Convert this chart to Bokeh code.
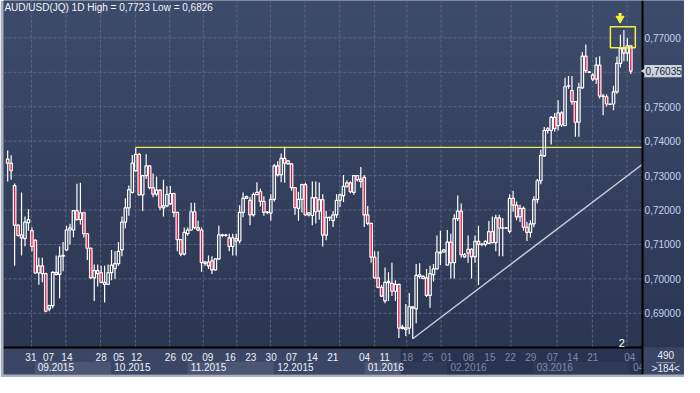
import numpy as np
from bokeh.plotting import figure
from bokeh.models import Range1d, Label, ColumnDataSource
from bokeh.embed import file_html
from bokeh.resources import INLINE
from bokeh.core.properties import value

# ---------------- data (AUD/USD daily) ----------------
opens = [.7348,.7336,.7271,.7156,.7128,.7117,.7163,.7140,.7112,.7017,
         .7038,.7015,.6913,.6922,.7019,.7013,.7066,.7084,.7142,.7142,
         .7198,.7172,.7192,.7131,.7089,.7003,.7024,.7018,.6990,.6984,
         .7018,.7030,.7044,.7084,.7165,.7206,.7251,.7314,.7362,.7244,
         .7300,.7328,.7265,.7246,.7258,.7206,.7212,.7218,.7248,.7193,
         .7114,.7072,.7131,.7142,.7195,.7149,.7142,.7045,.7049,.7052,
         .7026,.7058,.7128,.7126,.7119,.7094,.7117,.7110,.7193,.7234,
         .7228,.7186,.7245,.7253,.7225,.7193,.7191,.7231,.7328,.7302,
         .7350,.7334,.7334,.7265,.7205,.7231,.7274,.7192,.7184,.7236,
         .7197,.7230,.7127,.7179,.7169,.7186,.7228,.7242,.7269,.7279,
         .7251,.7300,.7283,.7295,.7186,.7161,.7063,.7003,.6975,.6936,
         .6989,.6987,.6964,.6984,.6856,.6858,.6857,.6919,.6913,.7007,
         .7007,.7003,.6952,.7012,.7029,.7075,.7078,.7040,.7107,.7047,
         .7175,.7197,.7070,.7075,.7086,.7064,.7109,.7100,.7100,.7103,
         .7137,.7105,.7177,.7147,.7148,.7138,.7234,.7214,.7180,.7205,
         .7150,.7135,.7160,.7230,.7285,.7357,.7431,.7431,.7469,.7445,
         .7482,.7445,.7560,.7547,.7515,.7455,.7555,.7647,.7601,.7592,
         .7580,.7621,.7531,.7529,.7508,.7508,.7543,.7626,.7669,.7656,
         .7677]
highs = [.7373,.7359,.7277,.7158,.7251,.7181,.7203,.7149,.7115,.7061,
         .7061,.7018,.6925,.7022,.7068,.7094,.7107,.7154,.7160,.7200,
         .7276,.7279,.7195,.7133,.7091,.7042,.7042,.7038,.7038,.7042,
         .7084,.7080,.7107,.7181,.7234,.7271,.7360,.7381,.7365,.7302,
         .7362,.7330,.7306,.7297,.7260,.7288,.7269,.7270,.7250,.7195,
         .7116,.7149,.7149,.7221,.7221,.7169,.7149,.7052,.7068,.7066,
         .7059,.7154,.7131,.7131,.7131,.7131,.7131,.7214,.7251,.7242,
         .7237,.7251,.7281,.7262,.7240,.7197,.7246,.7334,.7342,.7364,
         .7384,.7345,.7336,.7267,.7253,.7276,.7279,.7194,.7283,.7283,
         .7280,.7246,.7197,.7181,.7197,.7246,.7248,.7302,.7286,.7283,
         .7302,.7302,.7325,.7302,.7212,.7163,.7080,.7080,.6982,.7033,
         .7019,.7047,.6996,.6986,.6867,.6927,.6959,.6921,.7043,.7045,
         .7010,.7029,.7038,.7043,.7126,.7140,.7086,.7142,.7131,.7188,
         .7242,.7219,.7075,.7126,.7089,.7126,.7154,.7103,.7112,.7168,
         .7181,.7186,.7186,.7177,.7150,.7246,.7256,.7225,.7215,.7210,
         .7165,.7170,.7240,.7290,.7375,.7441,.7441,.7473,.7482,.7519,
         .7487,.7584,.7589,.7589,.7516,.7570,.7658,.7681,.7603,.7598,
         .7644,.7647,.7538,.7536,.7509,.7561,.7646,.7709,.7723,.7700,
         .7679]
lows = [.7283,.7288,.7038,.7123,.7068,.7095,.7140,.7080,.7015,.6983,
        .6990,.6903,.6906,.6915,.7010,.6944,.7022,.7082,.7100,.7121,
        .7170,.7158,.7120,.7055,.7000,.6936,.6978,.6987,.6931,.6982,
        .6996,.7000,.7038,.7066,.7147,.7183,.7248,.7311,.7242,.7197,
        .7290,.7260,.7237,.7240,.7200,.7181,.7208,.7215,.7179,.7080,
        .7066,.7068,.7125,.7140,.7144,.7138,.7021,.7038,.7029,.7014,
        .7024,.7055,.7121,.7122,.7080,.7068,.7068,.7103,.7179,.7232,
        .7156,.7181,.7242,.7210,.7183,.7188,.7169,.7225,.7297,.7281,
        .7279,.7332,.7256,.7186,.7169,.7193,.7184,.7181,.7156,.7161,
        .7172,.7094,.7112,.7168,.7151,.7177,.7209,.7223,.7265,.7249,
        .7244,.7283,.7265,.7151,.7156,.7047,.7001,.6973,.6947,.6929,
        .6936,.6950,.6936,.6828,.6853,.6834,.6839,.6826,.6871,.7001,
        .6999,.6947,.6916,.6992,.7027,.7040,.7076,.7040,.7001,.7001,
        .7168,.7061,.7061,.7047,.7001,.7047,.6982,.7095,.7094,.7103,
        .7103,.7080,.7066,.7066,.7145,.7132,.7195,.7170,.7165,.7140,
        .7110,.7120,.7150,.7220,.7275,.7355,.7422,.7390,.7427,.7431,
        .7441,.7445,.7552,.7506,.7413,.7413,.7552,.7598,.7598,.7575,
        .7566,.7524,.7475,.7501,.7505,.7490,.7538,.7614,.7632,.7632,
        .7595]
closes = [.7336,.7314,.7156,.7126,.7119,.7165,.7172,.7094,.7017,.7038,
          .7015,.6906,.6922,.7019,.7013,.7066,.7068,.7142,.7148,.7198,
          .7172,.7192,.7131,.7089,.7003,.7024,.7015,.6990,.6984,.7018,
          .7040,.7044,.7080,.7165,.7206,.7259,.7336,.7362,.7244,.7300,
          .7328,.7265,.7246,.7258,.7208,.7212,.7245,.7248,.7193,.7114,
          .7072,.7135,.7142,.7195,.7149,.7142,.7047,.7049,.7038,.7026,
          .7058,.7128,.7126,.7127,.7094,.7119,.7110,.7193,.7234,.7239,
          .7186,.7245,.7251,.7225,.7193,.7194,.7231,.7328,.7302,.7350,
          .7336,.7343,.7265,.7207,.7231,.7274,.7186,.7186,.7236,.7195,
          .7230,.7127,.7179,.7178,.7186,.7228,.7244,.7269,.7279,.7253,
          .7300,.7288,.7290,.7186,.7161,.7063,.7003,.6975,.6950,.6990,
          .6993,.6964,.6984,.6857,.6860,.6853,.6919,.6915,.7010,.7012,
          .7001,.6952,.7015,.7029,.7078,.7078,.7084,.7107,.7047,.7175,
          .7197,.7070,.7064,.7086,.7064,.7109,.7100,.7101,.7109,.7137,
          .7105,.7177,.7147,.7148,.7147,.7234,.7214,.7180,.7205,.7150,
          .7135,.7160,.7230,.7285,.7359,.7431,.7436,.7469,.7436,.7482,
          .7447,.7558,.7561,.7515,.7455,.7556,.7647,.7605,.7600,.7580,
          .7621,.7531,.7530,.7508,.7507,.7543,.7626,.7669,.7656,.7677,
          .76035]

price_ticks = [0.69, 0.70, 0.71, 0.72, 0.73, 0.74, 0.75, 0.77]
price_tick_labels = ["0,69000", "0,70000", "0,71000", "0,72000", "0,73000",
                     "0,74000", "0,75000", "0,77000"]
grid_levels = [0.69, 0.70, 0.71, 0.72, 0.73, 0.74, 0.75, 0.76, 0.77]
vgrid_pos = [6.9, 16.8, 26.8, 36.9, 46.8, 56.5, 66.2, 75.9, 85.9, 95.9,
             106.0, 115.3, 125.2, 135.3, 145.4, 158.7, 168.9, 178.9]

day_pos = [6.7, 11.8, 17.1, 27.0, 32.1, 37.2, 47.0, 51.8, 57.8, 64.3, 70.2,
           76.1, 82.0, 88.0, 93.9, 103.1, 108.9, 115.5, 121.4, 126.8, 133.1,
           139.3, 145.2, 151.1, 157.4, 163.2, 169.0, 179.7]
day_text = ["31", "07", "14", "28", "05", "12", "26", "02", "09", "16", "23",
            "30", "07", "14", "21", "04", "11", "18", "25", "01", "08",
            "15", "22", "29", "07", "14", "21", "04"]
month_start = [7.8, 29.9, 52.0, 77.0, 103.1, 127.0, 151.9, 179.7]
month_text = ["09.2015", "10.2015", "11.2015", "12.2015", "01.2016",
              "02.2016", "03.2016", "04"]

title_text = "AUD/USD(JQ) 1D High = 0,7723 Low = 0,6826"
last_price = 0.76035
last_price_text = "0,76035"
resistance_level = 0.7382
resistance_start = 37
trend_start = (117, 0.6826)
trend_end = (183.38, 0.7333)
total_bars = "490"
visible_bars = ">184<"
dim_from = 113.5          # start of the darker (inactive) part of the date strip

# ---------------- geometry ----------------
X0, X1 = -1.21, 183.38     # price area (bars)
X_END = 195.51             # right edge incl. the price-scale panel
P_TOP, P_BOT, Y0 = 0.78086, 0.68003, 0.67222
D = P_BOT - Y0
FONT = "Liberation Sans"

p = figure(width=684, height=377, x_range=Range1d(X0, X_END), y_range=Range1d(Y0, P_TOP),
           output_backend="svg", toolbar_location=None, x_axis_location=None,
           y_axis_location=None, min_border_left=3, min_border_right=0,
           min_border_top=0, min_border_bottom=3)
p.background_fill_color = "#34415e"
p.border_fill_color = "#a7b0c1"
p.outline_line_color = None
p.xgrid.visible = False
p.ygrid.visible = False

# background gradient (price area and price-scale panel)
nb = 36
edges = np.linspace(P_BOT, P_TOP, nb + 1)
c_bot = np.array([0x2b, 0x36, 0x51])
c_top = np.array([0x3e, 0x4c, 0x6c])
cols = []
for k in range(nb):
    t = (k + 0.5) / nb
    cc = (c_bot + (c_top - c_bot) * t).astype(int)
    cols.append("#%02x%02x%02x" % tuple(cc))
p.quad(left=X0, right=X_END, bottom=edges[:-1], top=edges[1:], fill_color=cols,
       line_color=None)

# grid
p.segment(x0=X0, x1=X1, y0=grid_levels, y1=grid_levels, line_color="#5b6784",
          line_dash="3 2", line_width=1)
p.segment(x0=vgrid_pos, x1=vgrid_pos, y0=P_BOT, y1=P_TOP, line_color="#5b6784",
          line_dash="3 2", line_width=1)

# date strip
p.quad(left=X0, right=X_END, bottom=Y0, top=P_BOT, fill_color="#3a4664", line_color=None)
m_edges = month_start + [X1]
band_l, band_r, band_c = [], [], []
for k in range(len(month_start)):
    band_l.append(m_edges[k])
    band_r.append(m_edges[k + 1])
    band_c.append("#4b5673" if k % 2 == 0 else "#3a4664")
p.quad(left=band_l, right=band_r, bottom=Y0, top=P_BOT - 0.525 * D, fill_color=band_c,
       line_color=None)
p.quad(left=dim_from, right=X1, bottom=Y0, top=P_BOT, fill_color="#1c2540",
       fill_alpha=0.55, line_color=None)
p.segment(x0=X0, x1=X1, y0=P_BOT, y1=P_BOT, line_color="black", line_width=2)

day_col = ["#7f8aa2" if x > dim_from else "#eef2f8" for x in day_pos]
p.text(x=day_pos, y=P_BOT - 0.332 * D, text=day_text, text_color=day_col,
       text_font=value(FONT), text_font_size=value("10px"), text_align="center",
       text_baseline="middle")
mon_col = ["#7f8aa2" if x > dim_from else "#eef2f8" for x in month_start]
p.text(x=[m + 0.9 for m in month_start], y=P_BOT - 0.725 * D, text=month_text,
       text_color=mon_col, text_font=value(FONT), text_font_size=value("10px"),
       text_align="left", text_baseline="middle")

# support / resistance
p.segment(x0=resistance_start, x1=X1, y0=resistance_level, y1=resistance_level,
          line_color="#eeee55", line_width=1.2)
p.segment(x0=trend_start[0], y0=trend_start[1], x1=trend_end[0], y1=trend_end[1],
          line_color="#c9cdd5", line_width=1.5)

# candles
idx = np.arange(len(opens))
o = np.array(opens); h = np.array(highs); l = np.array(lows); c = np.array(closes)
btop = np.maximum(o, c); bbot = np.minimum(o, c)
p.segment(x0=idx, x1=idx, y0=h, y1=btop, line_color="white", line_width=1.2)
p.segment(x0=idx, x1=idx, y0=bbot, y1=l, line_color="white", line_width=1.2)
falpha = [1.0 if cc < oo else 0.0 for oo, cc in zip(o, c)]
src = ColumnDataSource(dict(l=idx - 0.36, r=idx + 0.36, t=btop, b=bbot, fa=falpha))
p.quad(left="l", right="r", top="t", bottom="b", fill_color="#e0163e", fill_alpha="fa",
       line_color="white", line_width=1.2, source=src)

# marker box and arrow
p.quad(left=174.1, right=181.3, top=0.77326, bottom=0.76713, fill_color=None,
       line_color="#f2f23c", line_width=1.5)
p.segment(x0=176.9, x1=176.9, y0=0.77724, y1=0.77600, line_color="#f2f23c", line_width=3)
p.scatter(x=[176.9], y=[0.77560], marker="inverted_triangle", size=8,
          fill_color="#f2f23c", line_color="#f2f23c")

p.text(x=[177.4], y=[0.68030], text=["2"], text_color="white",
       text_font=value(FONT), text_font_size=value("11px"), text_align="center",
       text_baseline="bottom")

# price scale (right panel)
p.segment(x0=X1, x1=X1, y0=Y0, y1=P_TOP, line_color="black", line_width=2)
p.text(x=X1 + 0.6, y=price_ticks, text=price_tick_labels, text_color="#c4d4f0",
       text_font=value(FONT), text_font_size=value("10px"), text_align="left",
       text_baseline="middle")
p.quad(left=X1 + 0.55, right=X1 + 11.3, top=last_price + 0.0018,
       bottom=last_price - 0.0018, fill_color="#cfd3dc", line_color=None)
p.scatter(x=[X1 + 0.45], y=[last_price], marker="triangle", angle=np.pi / 2, size=6,
          fill_color="#cfd3dc", line_color=None)
p.text(x=[X1 + 0.9], y=[last_price], text=[last_price_text], text_color="#1a2440",
       text_font=value(FONT), text_font_size=value("10px"), text_align="left",
       text_baseline="middle")

# bar counters in the bottom-right corner
p.text(x=[190.1], y=[P_BOT - 0.286 * D], text=[total_bars], text_color="#e6ecf6",
       text_font=value(FONT), text_font_size=value("10px"), text_align="center",
       text_baseline="middle")
p.segment(x0=187.3, x1=192.9, y0=P_BOT - 0.56 * D, y1=P_BOT - 0.56 * D,
          line_color="#8c97ad", line_width=1)
p.text(x=[190.1], y=[P_BOT - 0.786 * D], text=[visible_bars], text_color="#e6ecf6",
       text_font=value(FONT), text_font_size=value("10px"), text_align="center",
       text_baseline="middle")

# title
p.add_layout(Label(x=-0.95, y=0.78040, text=title_text, text_color="#f2f5fa",
                   text_font=FONT, text_font_size="10px", text_baseline="top"))

open("out.html", "w").write(file_html(p, INLINE))
